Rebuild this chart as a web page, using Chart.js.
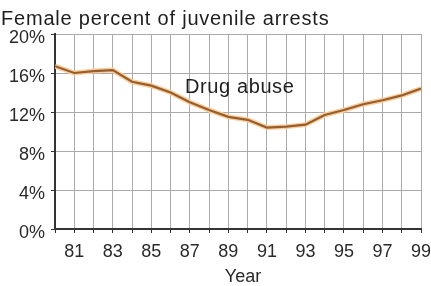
<!DOCTYPE html>
<html>
<head>
<meta charset="utf-8">
<script src="https://cdn.jsdelivr.net/npm/chart.js@4/dist/chart.umd.min.js"></script>
<style>
  html, body { margin: 0; padding: 0; background: #fff; }
  #wrap { width: 431px; height: 286px; position: relative; }
</style>
</head>
<body>
<div id="wrap"><canvas id="chart"></canvas></div>
<script>
// datos
const years = [1980, 1981, 1982, 1983, 1984, 1985, 1986, 1987, 1988, 1989,
               1990, 1991, 1992, 1993, 1994, 1995, 1996, 1997, 1998, 1999];
const drugAbuse = [16.7, 16.0, 16.2, 16.3, 15.1, 14.7, 14.0, 13.0, 12.2, 11.5,
                   11.2, 10.4, 10.5, 10.7, 11.7, 12.2, 12.8, 13.2, 13.7, 14.4];
const yTicks = [0, 4, 8, 12, 16, 20];
const seriesLabel = 'Drug abuse';
const chartTitle = 'Female percent of juvenile arrests';
const xTitle = 'Year';

const FONT = 'Arial, "Liberation Sans", sans-serif';
const points = years.map((y, i) => ({ x: y, y: drugAbuse[i] }));

// textos: titulo, etiqueta de la serie y titulo del eje x
const textPlugin = {
    id: 'texts',
    afterDraw(chart) {
        const { ctx, scales, chartArea } = chart;
        ctx.save();
        ctx.fillStyle = '#1e1e1e';
        ctx.textBaseline = 'alphabetic';
        ctx.textAlign = 'left';

        ctx.font = '20px ' + FONT;
        ctx.letterSpacing = '0.8px';
        ctx.fillText(chartTitle, 1, 25);

        ctx.letterSpacing = '0.6px';
        ctx.fillText(seriesLabel, scales.x.getPixelForValue(1986.75), scales.y.getPixelForValue(13.9));

        ctx.font = '18px ' + FONT;
        ctx.letterSpacing = '0px';
        ctx.fillStyle = '#2a2a2a';
        ctx.textAlign = 'center';
        ctx.fillText(xTitle, (chartArea.left + chartArea.right) / 2 + 5, 282);
        ctx.restore();
    }
};

new Chart(document.getElementById('chart'), {
    type: 'line',
    data: {
        datasets: [
            {
                data: points,
                borderColor: '#9a5c2a',
                borderWidth: 2.2,
                pointRadius: 0,
                tension: 0
            },
            {
                data: points,
                borderColor: '#f7cf9e',
                borderWidth: 5,
                pointRadius: 0,
                tension: 0
            }
        ]
    },
    options: {
        responsive: true,
        maintainAspectRatio: false,
        animation: false,
        layout: { padding: { left: 0, right: 0, top: 34, bottom: 0 } },
        plugins: {
            legend: { display: false },
            tooltip: { enabled: false },
            title: { display: false }
        },
        scales: {
            x: {
                type: 'linear',
                min: years[0],
                max: years[years.length - 1],
                afterFit(scale) {
                    scale.height = 57;
                    scale.paddingLeft = 0;
                    scale.paddingRight = 10;
                },
                afterBuildTicks(scale) {
                    scale.ticks = years.map(v => ({ value: v }));
                },
                ticks: {
                    autoSkip: false,
                    maxRotation: 0,
                    color: '#2a2a2a',
                    padding: 8,
                    font: { family: FONT, size: 18 },
                    callback: v => (v % 2 === 1 ? String(v).slice(2) : '')
                },
                grid: { color: '#aaaaaa', lineWidth: 1, tickLength: 4, tickColor: '#333' },
                border: { color: '#333', width: 2 }
            },
            y: {
                min: 0,
                max: 20,
                afterFit(scale) { scale.width = 55; },
                ticks: {
                    stepSize: 2,
                    color: '#2a2a2a',
                    padding: 6,
                    labelOffset: 4,
                    font: { family: FONT, size: 18 },
                    callback: v => (yTicks.includes(v) ? v + '%' : '')
                },
                grid: { color: '#aaaaaa', lineWidth: 1, tickLength: 4, tickColor: '#333' },
                border: { color: '#333', width: 2 }
            }
        }
    },
    plugins: [textPlugin]
});
</script>
</body>
</html>
